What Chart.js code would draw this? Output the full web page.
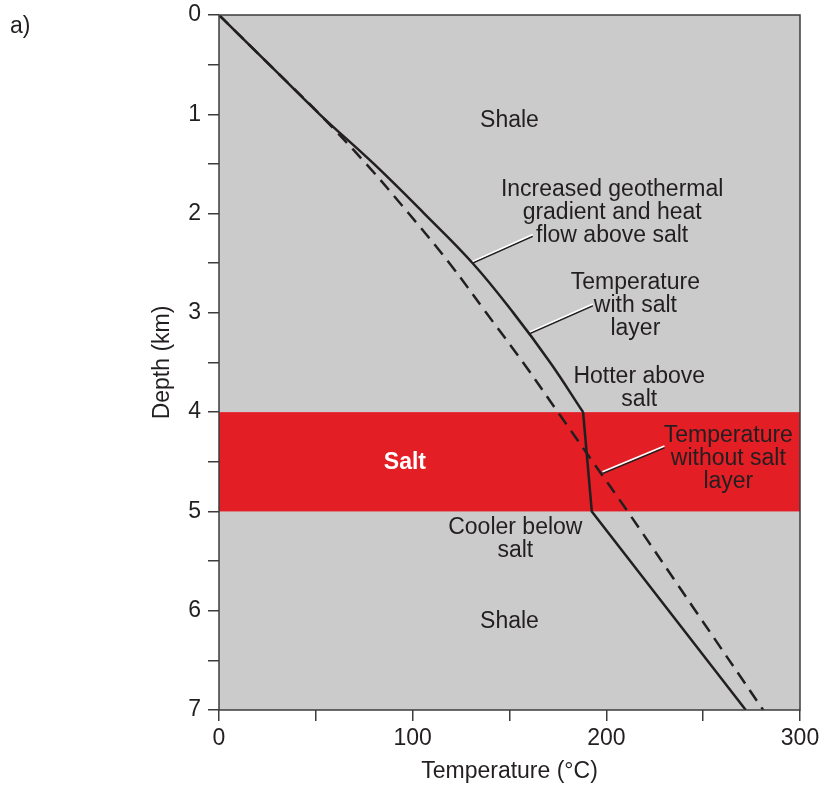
<!DOCTYPE html>
<html>
<head>
<meta charset="utf-8">
<title>Temperature with and without a salt layer</title>
<script src="https://cdn.jsdelivr.net/npm/chart.js@4.4.1/dist/chart.umd.min.js"></script>
<style>
  html, body { margin: 0; padding: 0; background: #ffffff; }
  #chart { display: block; }
</style>
</head>
<body>
<canvas id="chart" width="822" height="785"></canvas>
<script>
// Profile without salt (dashed line): depth in km, temperature in °C
const depthNoSalt = [0, 0.5, 1, 1.5, 2, 2.5, 3, 3.5, 4, 4.5, 5, 6, 7];
const tempNoSalt = [0, 26, 52, 76, 98, 119, 138, 157, 175, 193, 211, 246, 281];

// Profile with salt (solid line), split at the top of the salt so the kink stays sharp
const depthAboveSalt = [0, 0.5, 1, 1.5, 2, 2.5, 3, 3.5, 4];
const tempAboveSalt = [0, 26, 52, 80, 106, 131, 152, 171, 188];
const depthSaltAndBelow = [4, 5, 7];
const tempSaltAndBelow = [188, 192.5, 272];

// Salt layer limits (km)
const saltTop = 4;
const saltBase = 5;

// Axis ranges
const tempTicks = [0, 100, 200, 300];
const depthTicks = [0, 1, 2, 3, 4, 5, 6, 7];

const INK = "#231f20";
const AXIS = "#3c3c3c";
const SHALE_GREY = "#cbcbcb";
const SALT_RED = "#e31e25";
const FONT = "'Liberation Sans', Arial, sans-serif";

// Text labels, anchored in data units (temperature, depth of first line)
const labels = [
  { t: 150, d: 1.06, lines: ["Shale"] },
  { t: 203, d: 1.76, lines: ["Increased geothermal", "gradient and heat", "flow above salt"] },
  { t: 215, d: 2.70, lines: ["Temperature", "with salt", "layer"] },
  { t: 217, d: 3.64, lines: ["Hotter above", "salt"] },
  { t: 96, d: 4.51, lines: ["Salt"], bold: true, color: "#ffffff" },
  { t: 263, d: 4.24, lines: ["Temperature", "without salt", "layer"] },
  { t: 153, d: 5.16, lines: ["Cooler below", "salt"] },
  { t: 150, d: 6.11, lines: ["Shale"] },
];

// Leader lines from the labels to the curves
const leaders = [
  { from: [131, 2.49], to: [162, 2.22] },
  { from: [160.5, 3.20], to: [193, 2.92] },
  { from: [198, 4.61], to: [230, 4.35] },
];

function toPoints(depths, temps) {
  return depths.map((d, i) => ({ x: temps[i], y: d }));
}

const sectionPlugin = {
  id: "sections",
  beforeDatasetsDraw(chart) {
    const { ctx, chartArea: a, scales } = chart;
    ctx.save();
    ctx.fillStyle = SHALE_GREY;
    ctx.fillRect(a.left, a.top, a.width, a.height);
    const yTop = scales.y.getPixelForValue(saltTop);
    const yBase = scales.y.getPixelForValue(saltBase);
    ctx.fillStyle = SALT_RED;
    ctx.fillRect(a.left, yTop, a.width, yBase - yTop);
    ctx.restore();
  },
  afterDatasetsDraw(chart) {
    const { ctx, chartArea: a, scales } = chart;
    const { x, y } = scales;
    ctx.save();

    // leaders: black line with a white line alongside
    leaders.forEach((l) => {
      const x1 = x.getPixelForValue(l.from[0]);
      const y1 = y.getPixelForValue(l.from[1]);
      const x2 = x.getPixelForValue(l.to[0]);
      const y2 = y.getPixelForValue(l.to[1]);
      ctx.lineWidth = 1.5;
      ctx.strokeStyle = INK;
      ctx.beginPath();
      ctx.moveTo(x1, y1 + 0.8);
      ctx.lineTo(x2, y2 + 0.8);
      ctx.stroke();
      ctx.strokeStyle = "#ffffff";
      ctx.beginPath();
      ctx.moveTo(x1, y1 - 0.9);
      ctx.lineTo(x2, y2 - 0.9);
      ctx.stroke();
    });

    // text labels
    ctx.textAlign = "center";
    ctx.textBaseline = "middle";
    labels.forEach((lab) => {
      ctx.font = (lab.bold ? "bold " : "") + "23px " + FONT;
      ctx.fillStyle = lab.color || INK;
      const px = x.getPixelForValue(lab.t);
      const py = y.getPixelForValue(lab.d);
      lab.lines.forEach((line, i) => ctx.fillText(line, px, py + i * 23));
    });

    // frame around the plot
    ctx.strokeStyle = AXIS;
    ctx.lineWidth = 1.5;
    ctx.strokeRect(a.left, a.top, a.width, a.height);

    // panel letter
    ctx.textAlign = "left";
    ctx.font = "23px " + FONT;
    ctx.fillStyle = INK;
    ctx.fillText("a)", 10, 27);
    ctx.restore();
  },
};

Chart.defaults.font.family = FONT;
Chart.defaults.font.size = 23;
Chart.defaults.color = INK;

const ctx = document.getElementById("chart").getContext("2d");
new Chart(ctx, {
  type: "scatter",
  data: {
    datasets: [
      {
        label: "Temperature without salt layer",
        data: toPoints(depthNoSalt, tempNoSalt),
        showLine: true,
        borderColor: INK,
        borderWidth: 2.5,
        borderDash: [13, 8],
        pointRadius: 0,
        tension: 0.4,
      },
      {
        label: "Temperature with salt layer",
        data: toPoints(depthAboveSalt, tempAboveSalt),
        showLine: true,
        borderColor: INK,
        borderWidth: 2.5,
        pointRadius: 0,
        tension: 0.4,
      },
      {
        label: "Temperature with salt layer (salt and below)",
        data: toPoints(depthSaltAndBelow, tempSaltAndBelow),
        showLine: true,
        borderColor: INK,
        borderWidth: 2.5,
        pointRadius: 0,
        tension: 0,
      },
    ],
  },
  options: {
    responsive: false,
    animation: false,
    layout: { padding: { top: 15, right: 22, bottom: 0, left: 0 } },
    plugins: {
      legend: { display: false },
      tooltip: { enabled: false },
    },
    scales: {
      x: {
        type: "linear",
        min: tempTicks[0],
        max: tempTicks[tempTicks.length - 1],
        border: { display: false },
        grid: { drawOnChartArea: false, tickLength: 11, color: AXIS, lineWidth: 1.5 },
        ticks: {
          stepSize: 50,
          padding: 4,
          color: INK,
          callback: (v) => (tempTicks.includes(v) ? String(v) : ""),
        },
        title: { display: true, text: "Temperature (°C)", color: INK, padding: { top: 0, bottom: 0 } },
        afterFit: (scale) => {
          scale.height = 75;
          scale.paddingLeft = 0;
          scale.paddingRight = 0;
        },
      },
      y: {
        type: "linear",
        reverse: true,
        min: depthTicks[0],
        max: depthTicks[depthTicks.length - 1],
        border: { display: false },
        grid: { drawOnChartArea: false, tickLength: 11, color: AXIS, lineWidth: 1.5 },
        ticks: {
          stepSize: 0.5,
          padding: 7,
          color: INK,
          callback: (v) => (depthTicks.includes(v) ? String(v) : ""),
        },
        title: { display: true, text: "Depth (km)", color: INK, padding: { top: 149, bottom: 0 } },
        afterFit: (scale) => {
          scale.width = 219;
          scale.paddingTop = 0;
          scale.paddingBottom = 0;
        },
      },
    },
  },
  plugins: [sectionPlugin],
});
</script>
</body>
</html>
